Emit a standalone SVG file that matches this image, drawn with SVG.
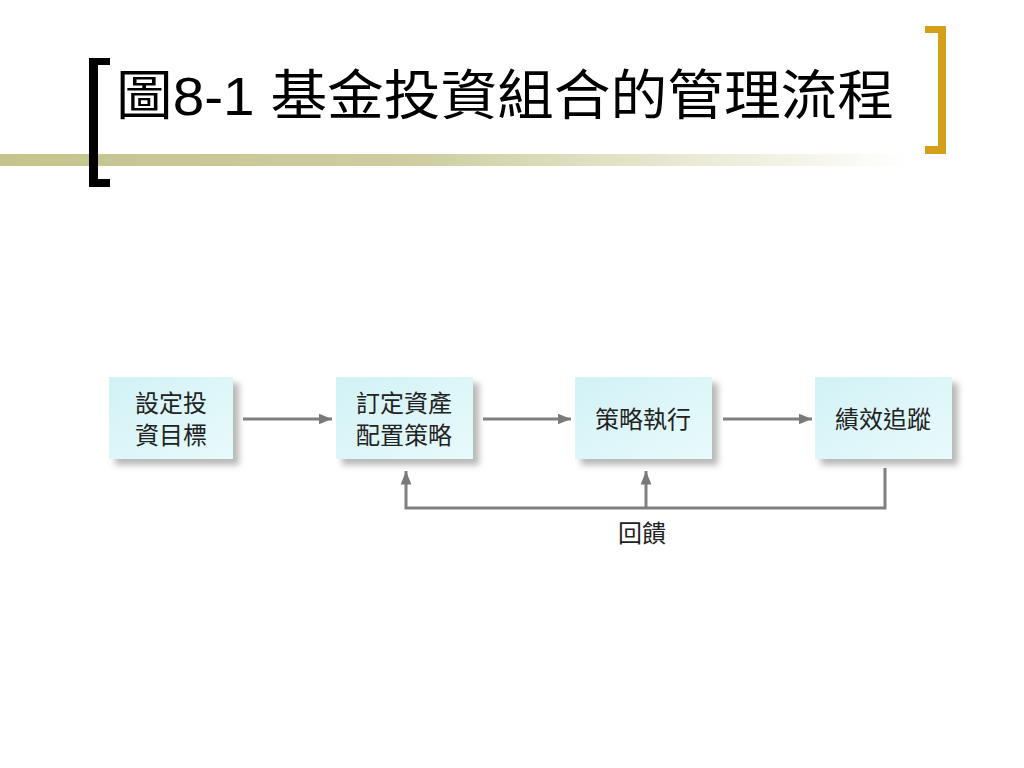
<svg xmlns="http://www.w3.org/2000/svg" width="1024" height="768" viewBox="0 0 1024 768">
<defs>
<linearGradient id="bar" x1="0" y1="0" x2="1" y2="0">
<stop offset="0" stop-color="#C4C48E"/>
<stop offset="0.45" stop-color="#CDCDA0"/>
<stop offset="1" stop-color="#FFFFFF"/>
</linearGradient>
<linearGradient id="box" x1="0" y1="0" x2="1" y2="1">
<stop offset="0" stop-color="#D2F2F6"/>
<stop offset="1" stop-color="#E8FAFB"/>
</linearGradient>
<filter id="sh" x="-10%" y="-10%" width="130%" height="140%">
<feGaussianBlur stdDeviation="3"/>
</filter>
<marker id="ah" viewBox="0 0 10 10" refX="10" refY="5" markerWidth="4.5" markerHeight="4.5" orient="auto" markerUnits="strokeWidth">
<path d="M0,1 L10,5 L0,9 z" fill="#7A7A7A"/>
</marker>
</defs>
<style>
.node{fill:url(#box);}
.shadow{fill:#9A9A9A;opacity:0.7;filter:url(#sh);}
.lbl{font-family:"Liberation Sans","Noto Sans CJK TC",sans-serif;font-size:24px;fill:#222;text-anchor:middle;}
.conn{stroke:#808080;stroke-width:3;fill:none;}
.title{font-family:"Liberation Sans","Noto Sans CJK TC",sans-serif;font-size:54px;fill:#000;}
</style>
<rect width="1024" height="768" fill="#FFFFFF"/>
<rect x="0" y="154" width="910" height="12" fill="url(#bar)"/>
<g id="left-bracket" fill="#000">
<rect x="89" y="58" width="9" height="129"/>
<rect x="89" y="58" width="21" height="7"/>
<rect x="89" y="179" width="21" height="8"/>
</g>
<g id="right-bracket" fill="#D4A019">
<rect x="938" y="26" width="8" height="128"/>
<rect x="925" y="26" width="21" height="7"/>
<rect x="925" y="146" width="21" height="8"/>
</g>
<text class="title" x="116" y="115" textLength="778" lengthAdjust="spacingAndGlyphs">圖8-1 基金投資組合的管理流程</text>

<g id="connectors">
<line class="conn" x1="243" y1="419" x2="332" y2="419" marker-end="url(#ah)"/>
<line class="conn" x1="483" y1="419" x2="571" y2="419" marker-end="url(#ah)"/>
<line class="conn" x1="723" y1="419" x2="812" y2="419" marker-end="url(#ah)"/>
<polyline class="conn" points="885,468 885,508 406,508 406,471" marker-end="url(#ah)"/>
<line class="conn" x1="646" y1="508" x2="646" y2="471" marker-end="url(#ah)"/>
<text class="lbl" x="642" y="542">回饋</text>
</g>

<g id="n1">
<rect class="shadow" x="115" y="383" width="124" height="82"/>
<rect class="node" x="109" y="377" width="124" height="82"/>
<text class="lbl" x="171" y="412">設定投</text>
<text class="lbl" x="171" y="444">資目標</text>
</g>
<g id="n2">
<rect class="shadow" x="342" y="383" width="137" height="82"/>
<rect class="node" x="336" y="377" width="137" height="82"/>
<text class="lbl" x="404" y="412">訂定資產</text>
<text class="lbl" x="404" y="444">配置策略</text>
</g>
<g id="n3">
<rect class="shadow" x="581" y="383" width="137" height="82"/>
<rect class="node" x="575" y="377" width="137" height="82"/>
<text class="lbl" x="643" y="428">策略執行</text>
</g>
<g id="n4">
<rect class="shadow" x="821" y="383" width="137" height="82"/>
<rect class="node" x="815" y="377" width="137" height="82"/>
<text class="lbl" x="883" y="428">績效追蹤</text>
</g>
</svg>
